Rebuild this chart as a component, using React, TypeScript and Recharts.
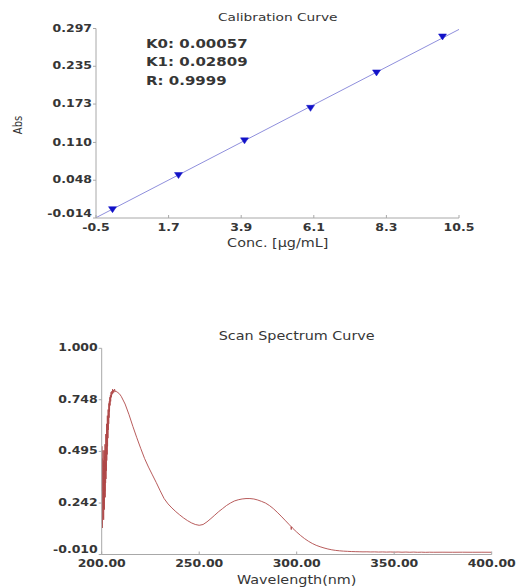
import React from 'react';
import { ComposedChart, LineChart, Line, Scatter, XAxis, YAxis } from 'recharts';

const FONT = "'DejaVu Sans', Verdana, sans-serif";
const SX = 1.25;
const AXIS_COLOR = '#a8a8a8';
const TEXT_COLOR = '#363636';

// ---------- Calibration curve ----------
const concX = [0, 2, 4, 6, 8, 10];
const absY = [0.0005, 0.0565, 0.1134, 0.1668, 0.2249, 0.2839];
const fitX = [-0.5, 10.5];
const fitY = [-0.0135, 0.2955];
const calXTicks = [-0.5, 1.7, 3.9, 6.1, 8.3, 10.5];
const calYTicks = [-0.014, 0.048, 0.11, 0.173, 0.235, 0.297];
const calStats = ['K0: 0.00057', 'K1: 0.02809', 'R: 0.9999'];

// ---------- Scan spectrum ----------
const specWl = [
  200.0, 200.1, 200.2, 200.3, 200.4, 200.5, 200.6, 200.7, 200.8, 200.9,
  201.0, 201.1, 201.2, 201.3, 201.4, 201.5, 201.6, 201.7, 201.8, 201.9,
  202.0, 202.1, 202.2, 202.3, 202.4, 202.5, 202.6, 202.7, 202.8, 202.9,
  203.0, 203.1, 203.2, 203.3, 203.4, 203.5, 203.6, 203.7, 203.8, 203.9,
  204.0,
  204.15, 204.3, 204.45, 204.6, 204.8, 205.0, 205.2, 205.4, 205.6, 205.8,
  206.0, 206.3, 206.6, 207.0, 207.4, 207.8,
  208, 209, 210, 212, 214, 216, 218, 220, 222, 224,
  226, 228, 230, 232, 234, 236, 238, 240, 242, 244,
  246, 248, 250,
  252, 254, 256, 258, 260, 262, 264, 266, 268, 270,
  272, 274, 276, 278, 280, 282, 284, 286, 288, 290,
  292, 294, 296,
  297, 297.2, 297.4, 298,
  300, 302, 304, 306, 308, 310, 312, 314, 316, 318,
  320, 322, 324, 326, 328, 330, 332, 334, 336, 338,
  340, 342, 344, 346, 348, 350, 352, 354, 356, 358,
  360, 362, 364, 366, 368, 370,
  375, 380, 385, 390, 395, 400,
];
const specAbs = [
  0.3, 0.52, 0.14, 0.46, 0.12, 0.4, 0.17, 0.5, 0.22, 0.45,
  0.16, 0.42, 0.25, 0.5, 0.21, 0.47, 0.3, 0.53, 0.27, 0.44,
  0.34, 0.58, 0.36, 0.52, 0.4, 0.63, 0.45, 0.6, 0.48, 0.67,
  0.52, 0.66, 0.56, 0.7, 0.6, 0.68, 0.63, 0.73, 0.66, 0.74,
  0.69,
  0.76, 0.72, 0.77, 0.74, 0.785, 0.76, 0.79, 0.775, 0.8, 0.78,
  0.795, 0.785, 0.8, 0.788, 0.79, 0.785,
  0.785, 0.778, 0.765, 0.727, 0.675, 0.617, 0.562, 0.51, 0.46, 0.418,
  0.38, 0.342, 0.302, 0.264, 0.238, 0.218, 0.2, 0.184, 0.169, 0.156,
  0.145, 0.137, 0.133,
  0.137, 0.15, 0.166, 0.183, 0.2, 0.215, 0.23, 0.242, 0.252, 0.258,
  0.262, 0.264, 0.264, 0.262, 0.257, 0.25, 0.242, 0.23, 0.215, 0.197,
  0.178, 0.158, 0.138,
  0.128, 0.112, 0.126, 0.118,
  0.1, 0.083, 0.068, 0.055, 0.044, 0.035, 0.028, 0.022, 0.017, 0.013,
  0.01, 0.008, 0.0065, 0.0055, 0.0045, 0.004, 0.0035, 0.003, 0.0032, 0.0025,
  0.0028, 0.002, 0.0026, 0.0018, 0.0024, 0.0016, 0.0022, 0.0012, 0.002, 0.001,
  0.0018, 0.0008, 0.0014, 0.0006, 0.0012, 0.001,
  0.0012, 0.001, 0.0012, 0.001, 0.0011, 0.001,
];
const specXTicks = [200, 250, 300, 350, 400];
const specYTicks = [-0.01, 0.242, 0.495, 0.748, 1.0];

const calPoints = concX.map((x, i) => ({ x, y: absY[i] }));
const fitData = fitX.map((x, i) => ({ x, y: fitY[i] }));
const specData = specWl.map((wl, i) => ({ wl, a: specAbs[i] }));

const makeYTick = (digits: number, minVal: number, shift: number) => (props: any) => {
  const { x, y, payload } = props;
  const v = Number(payload.value);
  const dy = Math.abs(v - minVal) < 1e-9 ? shift : 0;
  return (
    <g>
      <line x1={x - 3} y1={y} x2={x} y2={y} stroke={AXIS_COLOR} strokeWidth={1} />
      <text
        transform={`translate(${x - 4},${y + dy}) scale(${SX},1)`}
        textAnchor="end"
        dominantBaseline="central"
        fontFamily={FONT}
        fontSize={10}
        fontWeight="bold"
        fill={TEXT_COLOR}
      >
        {v.toFixed(digits)}
      </text>
    </g>
  );
};

const makeXTick = (digits: number, dyLabel: number) => (props: any) => {
  const { x, y, payload } = props;
  const v = Number(payload.value);
  return (
    <g>
      <line x1={x} y1={y - 3} x2={x} y2={y} stroke={AXIS_COLOR} strokeWidth={1} />
      <text
        transform={`translate(${x},${y + dyLabel}) scale(${SX},1)`}
        textAnchor="middle"
        dominantBaseline="central"
        fontFamily={FONT}
        fontSize={10}
        fontWeight="bold"
        fill={TEXT_COLOR}
      >
        {v.toFixed(digits)}
      </text>
    </g>
  );
};

const calYTick = makeYTick(3, -0.014, -4);
const calXTick = makeXTick(1, 10);
const specYTick = makeYTick(3, -0.01, -5);
const specXTick = makeXTick(2, 9);

const TriangleDown = (props: any) => {
  const { cx, cy } = props;
  if (cx == null || cy == null) return null;
  const pts = `${cx - 4},${cy - 2.5} ${cx + 4},${cy - 2.5} ${cx},${cy + 3.5}`;
  return <polygon points={pts} fill="#1212c8" stroke="#1212c8" strokeWidth={0.5} />;
};

const SText = ({ x, y, size, anchor = 'middle', weight = 'normal', rotate = 0, children }: any) => (
  <text
    transform={`translate(${x},${y}) scale(${SX},1)${rotate ? ` rotate(${rotate})` : ''}`}
    textAnchor={anchor}
    dominantBaseline="central"
    fontFamily={FONT}
    fontSize={size}
    fontWeight={weight}
    fill={TEXT_COLOR}
  >
    {children}
  </text>
);

export default function App() {
  return (
    <div style={{ position: 'absolute', left: 0, top: 0, width: 517, height: 587, background: '#fff', overflow: 'hidden' }}>
      <div style={{ position: 'absolute', left: 0, top: 0 }}>
        <ComposedChart width={517} height={260} margin={{ top: 28.5, right: 58, bottom: 0, left: 0 }}>
          <XAxis
            type="number"
            dataKey="x"
            domain={[-0.5, 10.5]}
            ticks={calXTicks}
            interval={0}
            allowDataOverflow
            tickLine={false}
            tickSize={0}
            tickMargin={0}
            height={42}
            axisLine={{ stroke: AXIS_COLOR }}
            tick={calXTick}
          />
          <YAxis
            type="number"
            domain={[-0.014, 0.297]}
            ticks={calYTicks}
            interval={0}
            allowDataOverflow
            tickLine={false}
            tickSize={0}
            tickMargin={0}
            width={96}
            axisLine={{ stroke: AXIS_COLOR }}
            tick={calYTick}
          />
          <Line
            data={fitData}
            dataKey="y"
            stroke="#8f8fdc"
            strokeWidth={1}
            dot={false}
            activeDot={false}
            isAnimationActive={false}
          />
          <Scatter data={calPoints} dataKey="y" fill="#1212c8" shape={TriangleDown} isAnimationActive={false} />
        </ComposedChart>
      </div>
      <div style={{ position: 'absolute', left: 0, top: 300 }}>
        <LineChart width={517} height={287} data={specData} margin={{ top: 48.3, right: 25.3, bottom: 0, left: 0 }}>
          <XAxis
            type="number"
            dataKey="wl"
            domain={[200, 400]}
            ticks={specXTicks}
            interval={0}
            allowDataOverflow
            tickLine={false}
            tickSize={0}
            tickMargin={0}
            height={32.5}
            axisLine={{ stroke: AXIS_COLOR }}
            tick={specXTick}
          />
          <YAxis
            type="number"
            domain={[-0.01, 1.0]}
            ticks={specYTicks}
            interval={0}
            allowDataOverflow
            tickLine={false}
            tickSize={0}
            tickMargin={0}
            width={101.7}
            axisLine={{ stroke: AXIS_COLOR }}
            tick={specYTick}
          />
          <Line
            dataKey="a"
            stroke="#b04a4a"
            strokeWidth={0.9}
            dot={false}
            activeDot={false}
            isAnimationActive={false}
          />
        </LineChart>
      </div>
      <svg width={517} height={587} style={{ position: 'absolute', left: 0, top: 0, pointerEvents: 'none' }}>
        <SText x={277.7} y={17} size={11}>Calibration Curve</SText>
        <SText x={18} y={125} size={10} rotate={-90}>Abs</SText>
        <SText x={277.7} y={243} size={11.5}>Conc. [μg/mL]</SText>
        {calStats.map((s, i) => (
          <SText key={s} x={146} y={43.5 + i * 18.5} size={12} anchor="start" weight="bold">
            {s}
          </SText>
        ))}
        <SText x={296.7} y={335.7} size={11.5}>Scan Spectrum Curve</SText>
        <SText x={296.7} y={580.5} size={11.5}>Wavelength(nm)</SText>
      </svg>
    </div>
  );
}
